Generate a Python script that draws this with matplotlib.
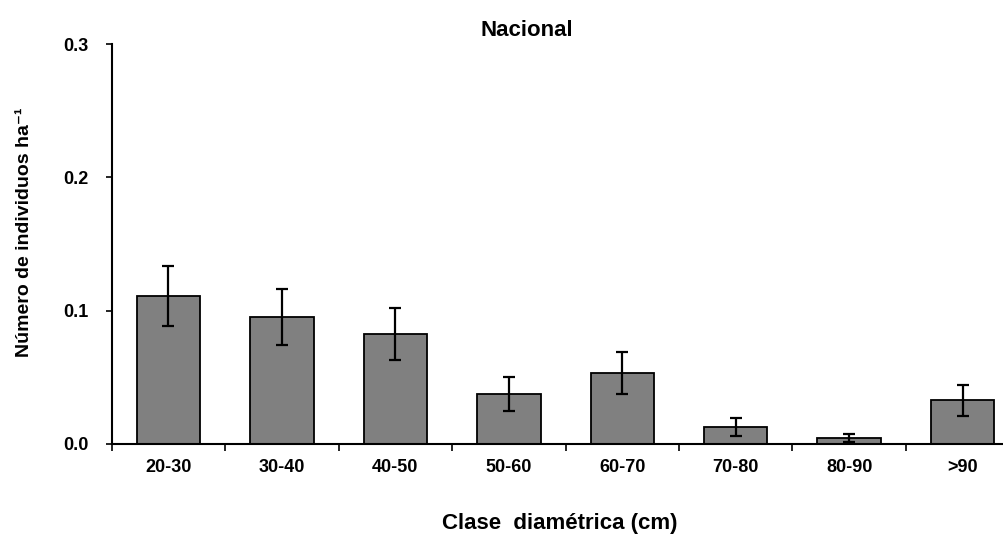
import numpy as np
import matplotlib
matplotlib.use('Agg')
import matplotlib.pyplot as plt
from matplotlib.ticker import FixedLocator

plt.rcParams['font.family'] = ['Liberation Sans', 'DejaVu Sans']

# datos
clases = ['20-30', '30-40', '40-50', '50-60', '60-70', '70-80', '80-90', '>90']
valores = [0.111, 0.095, 0.0825, 0.0374, 0.0532, 0.0125, 0.0045, 0.0328]
errores = [0.0225, 0.021, 0.0195, 0.0125, 0.0157, 0.0068, 0.003, 0.0117]
yticks = [0.0, 0.1, 0.2, 0.3]

fig = plt.figure(figsize=(10.04, 5.4), dpi=100)
ax = fig.add_axes([0.1113, 0.1778, 0.904, 0.7407])

x = np.arange(len(clases))
ax.bar(x, valores, width=0.56, color='#808080', edgecolor='black', linewidth=1.3,
       yerr=errores, error_kw=dict(ecolor='black', elinewidth=1.6, capsize=4, capthick=1.6))

ax.set_xlim(-0.5, len(clases) - 0.5)
ax.set_ylim(0, 0.3)
ax.set_yticks(yticks)
ax.set_yticklabels(['%.1f' % v for v in yticks])

ax.set_xticks(x)
ax.set_xticklabels(clases)
ax.xaxis.set_minor_locator(FixedLocator(np.arange(-0.5, len(clases), 1.0)))
ax.tick_params(axis='x', which='major', length=0, pad=11, labelsize=13)
ax.tick_params(axis='x', which='minor', length=5, width=1.2, direction='out')
ax.tick_params(axis='y', length=4.5, width=1.2, direction='out', pad=12, labelsize=13)
for lab in ax.get_xticklabels() + ax.get_yticklabels():
    lab.set_fontweight('bold')

for s in ['top', 'right']:
    ax.spines[s].set_visible(False)
for s in ['left', 'bottom']:
    ax.spines[s].set_linewidth(1.5)

ax.set_title('Nacional', fontsize=16, fontweight='bold', pad=6, x=0.457)
ax.set_xlabel('Clase  diamétrica (cm)', fontsize=16, fontweight='bold')
ax.xaxis.set_label_coords(0.494, -0.172)
ax.set_ylabel('Número de individuos ha⁻¹', fontsize=14, fontweight='bold')
ax.yaxis.set_label_coords(-0.087, 0.53)

fig.savefig('out.png', dpi=100)
